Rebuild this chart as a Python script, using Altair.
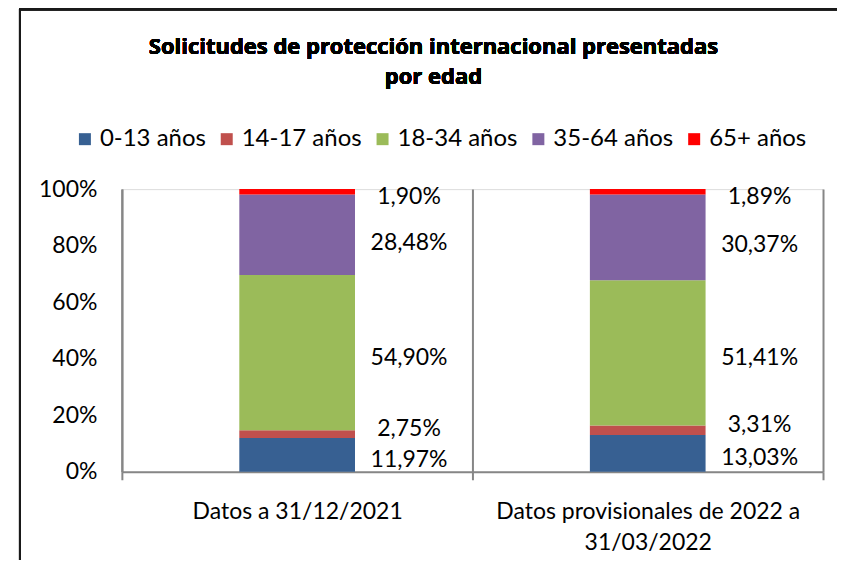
import altair as alt
import pandas as pd

title_lines = ["Solicitudes de protección internacional presentadas", "por edad"]
categories = ["Datos a 31/12/2021", "Datos provisionales de 2022 a 31/03/2022"]
cat_lines = [["Datos a 31/12/2021"], ["Datos provisionales de 2022  a", "31/03/2022"]]
series = ["0-13 años", "14-17 años", "18-34 años", "35-64 años", "65+ años"]
vals_2021 = [11.97, 2.75, 54.90, 28.48, 1.90]
vals_2022 = [13.03, 3.31, 51.41, 30.37, 1.89]
colors = ["#376092", "#C0504D", "#9BBB59", "#8064A2", "#FF0000"]
label_dy = [5, -5, 5, 8, 5]
y_ticks = [0, 0.2, 0.4, 0.6, 0.8, 1.0]

rows = []
for cat, vals in zip(categories, [vals_2021, vals_2022]):
    for i, (s, v) in enumerate(zip(series, vals)):
        rows.append({"cat": cat, "serie": s, "idx": i, "v": v,
                     "label": f"{v:.2f}%".replace(".", ",")})
df = pd.DataFrame(rows)

FONT = "Lato"
GRAY = "#868686"
FS = 23

expr = " : ".join(
    [f"datum.value == '{c}' ? {l!r}" for c, l in zip(categories, cat_lines)] + ["datum.label"]
)

x_enc = alt.X(
    "cat:N", sort=categories,
    scale=alt.Scale(paddingInner=0, paddingOuter=0),
    axis=alt.Axis(
        title=None, labelAngle=0, labelFont=FONT, labelFontSize=FS, labelColor="black",
        labelPadding=21, labelBaseline="top", labelLineHeight=31, labelExpr=expr,
        labelLimit=0,
        tickBand="extent", ticks=True, tickSize=8, tickColor=GRAY, tickWidth=2,
        domainColor=GRAY, domainWidth=2, grid=True, gridColor=GRAY, gridWidth=2,
    ),
)

base = alt.Chart(df)

bars = base.mark_bar(width=alt.RelativeBandSize(0.33)).encode(
    x=x_enc,
    y=alt.Y(
        "v:Q", stack="normalize",
        scale=alt.Scale(domain=[0, 1], nice=False),
        axis=alt.Axis(
            title=None, format=".0%", values=y_ticks, ticks=False, grid=False,
            labelPadding=25, labelFont=FONT, labelFontSize=FS, labelColor="black",
            domainColor=GRAY, domainWidth=2,
        ),
    ),
    color=alt.Color(
        "serie:N",
        scale=alt.Scale(domain=series, range=colors),
        legend=alt.Legend(
            orient="none", legendX=-49, legendY=-62, direction="horizontal",
            title=None, symbolType="square", symbolSize=144, symbolStrokeWidth=0,
            labelFont=FONT, labelFontSize=24, labelColor="black",
            columnPadding=8, labelOffset=3, padding=0, labelLimit=0,
        ),
    ),
    order=alt.Order("idx:Q", sort="ascending"),
)

stacked = base.transform_stack(
    stack="v", as_=["y0", "y1"], groupby=["cat"],
    sort=[alt.SortField("idx", order="ascending")], offset="normalize",
).transform_calculate(mid="(datum.y0 + datum.y1) / 2")

label_layers = []
for i in range(len(series)):
    label_layers.append(
        stacked.transform_filter(f"datum.idx == {i}").mark_text(
            dx=112, dy=label_dy[i], font=FONT, fontSize=FS, color="black",
            align="center", baseline="middle",
        ).encode(x=alt.X("cat:N", sort=categories), y=alt.Y("mid:Q"), text="label:N")
    )

title_layers = [
    base.mark_text(font="Open Sans", fontSize=22, fontWeight="bold", color="black",
                   align="center", baseline="middle").encode(
        x=alt.value(312), y=alt.value(yv), text=alt.value(t)
    )
    for t, yv in zip(title_lines, [-142, -112])
]

frame_left = base.mark_rule(color="#1a1a1a", strokeWidth=2).encode(
    x=alt.value(-102), y=alt.value(-181), y2=alt.value(380)
)
frame_top = base.mark_rule(color="#1a1a1a", strokeWidth=2).encode(
    x=alt.value(-102), x2=alt.value(740), y=alt.value(-180)
)

chart = alt.layer(bars, *label_layers, *title_layers, frame_left, frame_top).properties(
    width=702, height=283,
    autosize=alt.AutoSizeParams(type="none"),
    padding={"left": 114, "top": 181, "right": 14, "bottom": 88},
).configure_view(stroke=None).configure(background="white")

chart.save("out.html", embed_options={"renderer": "svg", "actions": False})
